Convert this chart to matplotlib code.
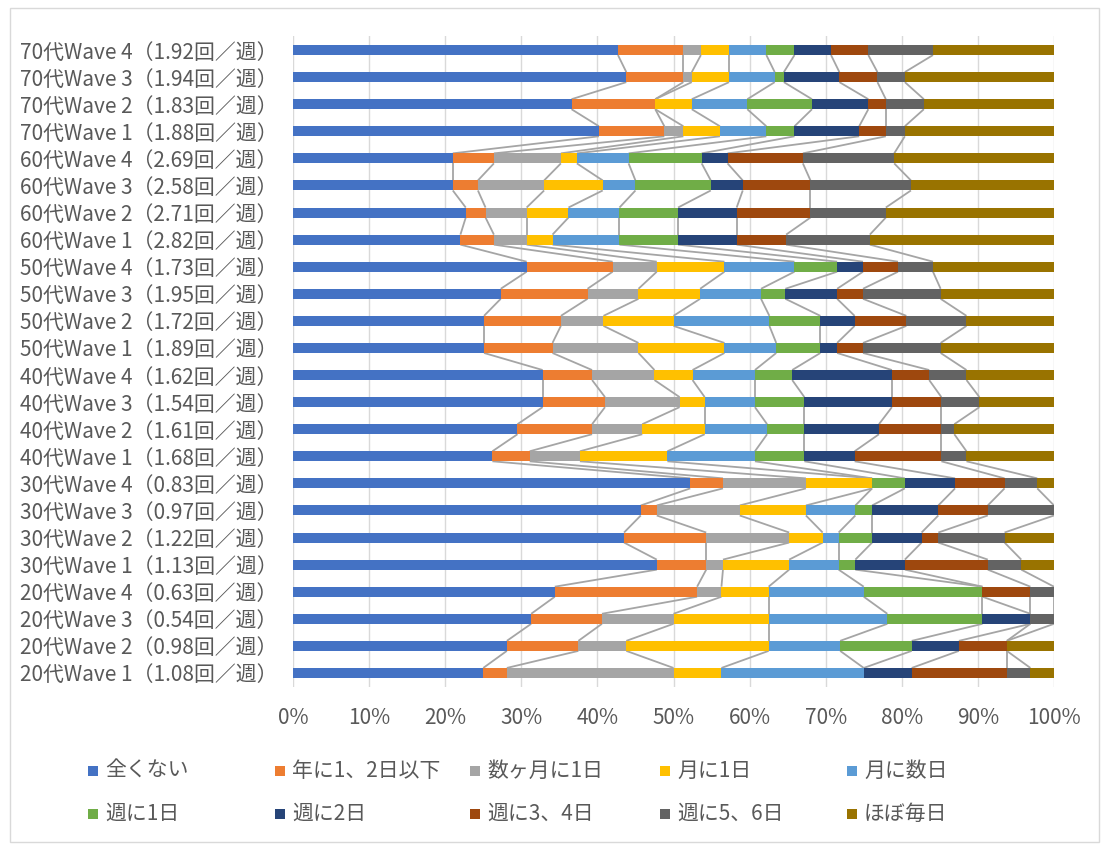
import matplotlib
matplotlib.use("Agg")
import matplotlib.pyplot as plt
import numpy as np
from matplotlib.patches import Rectangle

plt.rcParams['font.family'] = ['Noto Sans CJK JP', 'DejaVu Sans']

# Categories, bottom to top
labels = [
    "20代Wave 1（1.08回／週）", "20代Wave 2（0.98回／週）", "20代Wave 3（0.54回／週）", "20代Wave 4（0.63回／週）",
    "30代Wave 1（1.13回／週）", "30代Wave 2（1.22回／週）", "30代Wave 3（0.97回／週）", "30代Wave 4（0.83回／週）",
    "40代Wave 1（1.68回／週）", "40代Wave 2（1.61回／週）", "40代Wave 3（1.54回／週）", "40代Wave 4（1.62回／週）",
    "50代Wave 1（1.89回／週）", "50代Wave 2（1.72回／週）", "50代Wave 3（1.95回／週）", "50代Wave 4（1.73回／週）",
    "60代Wave 1（2.82回／週）", "60代Wave 2（2.71回／週）", "60代Wave 3（2.58回／週）", "60代Wave 4（2.69回／週）",
    "70代Wave 1（1.88回／週）", "70代Wave 2（1.83回／週）", "70代Wave 3（1.94回／週）", "70代Wave 4（1.92回／週）",
]

series_names = ["全くない", "年に1、2日以下", "数ヶ月に1日", "月に1日", "月に数日",
                "週に1日", "週に2日", "週に3、4日", "週に5、6日", "ほぼ毎日"]

# Shares (%) per series, same order as labels
never = [25.0, 28.1, 31.3, 34.4, 47.8, 43.5, 45.7, 52.2, 26.2, 29.5, 32.8, 32.8,
         25.1, 25.1, 27.3, 30.7, 22.0, 22.7, 21.0, 21.0, 40.2, 36.6, 43.8, 42.7]
yearly = [3.1, 9.4, 9.3, 18.7, 6.5, 10.8, 2.1, 4.3, 4.9, 9.8, 8.2, 6.5,
          9.0, 10.1, 11.4, 11.3, 4.4, 2.6, 3.3, 5.4, 8.6, 11.0, 7.5, 8.6]
few_months = [21.9, 6.3, 9.4, 3.2, 2.2, 10.9, 10.9, 10.9, 6.6, 6.6, 9.8, 8.2,
              11.3, 5.6, 6.7, 5.8, 4.3, 5.4, 8.7, 8.8, 2.5, 0.0, 1.1, 2.3]
monthly_1 = [6.3, 18.7, 12.5, 6.2, 8.7, 4.4, 8.7, 8.7, 11.5, 8.2, 3.3, 5.0,
             11.3, 9.2, 8.1, 8.9, 3.4, 5.5, 7.7, 2.1, 4.8, 4.8, 4.9, 3.7]
monthly_few = [18.7, 9.4, 15.6, 12.5, 6.5, 2.1, 6.5, 0.0, 11.5, 8.2, 6.6, 8.2,
               6.8, 12.6, 8.0, 9.2, 8.8, 6.7, 4.3, 6.8, 6.1, 7.3, 6.0, 4.9]
weekly_1 = [0.0, 9.4, 12.5, 15.6, 2.2, 4.4, 2.2, 4.3, 6.5, 4.9, 6.5, 4.9,
            5.8, 6.7, 3.2, 5.6, 7.7, 7.7, 9.9, 9.6, 3.7, 8.5, 1.2, 3.7]
weekly_2 = [6.3, 6.2, 6.3, 0.0, 6.5, 6.5, 8.7, 6.6, 6.6, 9.8, 11.5, 13.1,
            2.2, 4.5, 6.8, 3.4, 7.7, 7.7, 4.2, 3.4, 8.5, 7.4, 7.3, 4.8]
weekly_34 = [12.5, 6.3, 0.0, 6.3, 10.9, 2.2, 6.5, 6.5, 11.4, 8.2, 6.5, 4.9,
             3.4, 6.8, 3.4, 4.6, 6.5, 9.7, 8.9, 9.9, 3.5, 2.3, 5.0, 4.9]
weekly_56 = [3.1, 0.0, 3.1, 3.1, 4.4, 8.7, 8.7, 4.3, 3.3, 1.7, 5.0, 4.9,
             10.2, 7.9, 10.2, 4.6, 11.0, 9.9, 13.2, 12.0, 2.5, 5.0, 3.6, 8.5]
daily = [3.1, 6.2, 0.0, 0.0, 4.3, 6.5, 0.0, 2.2, 11.5, 13.1, 9.8, 11.5,
         14.9, 11.5, 14.9, 15.9, 24.2, 22.1, 18.8, 21.0, 19.6, 17.1, 19.6, 15.9]

x_ticks = [0, 10, 20, 30, 40, 50, 60, 70, 80, 90, 100]

colors = ["#4472C4", "#ED7D31", "#A5A5A5", "#FFC000", "#5B9BD5",
          "#70AD47", "#264478", "#9E480E", "#636363", "#997300"]
text_color = "#595959"

data = np.array([never, yearly, few_months, monthly_1, monthly_few,
                 weekly_1, weekly_2, weekly_34, weekly_56, daily])
n = len(labels)
y = np.arange(n)
bar_h = 0.37

fig = plt.figure(figsize=(11.05, 8.46), dpi=100)
ax = fig.add_axes([293 / 1105, 159.5 / 846, 761 / 1105, 650 / 846])

left = np.zeros(n)
for vals, col, name in zip(data, colors, series_names):
    ax.barh(y, vals, left=left, height=bar_h, color=col, label=name, zorder=3)
    left = left + vals

# Series lines joining segment ends of neighbouring bars
cum = np.cumsum(data, axis=0)
for j in range(data.shape[0] - 1):
    for i in range(n - 1):
        ax.plot([cum[j, i], cum[j, i + 1]],
                [y[i] + bar_h / 2, y[i + 1] - bar_h / 2],
                color="#A5A5A5", lw=1.3, zorder=2, solid_capstyle="butt")

ax.set_xlim(0, 100)
ax.set_ylim(-0.5, n - 0.5)
ax.set_xticks(x_ticks)
ax.set_xticklabels([f"{t}%" for t in x_ticks])
ax.set_yticks(y)
ax.set_yticklabels(labels)
ax.tick_params(axis="both", length=0, colors=text_color, labelsize=15)
ax.tick_params(axis="x", pad=15)
ax.tick_params(axis="y", pad=11)
ax.grid(axis="x", color="#D9D9D9", lw=1.0, zorder=0)
for s in ax.spines.values():
    s.set_visible(False)

# Legend: two rows of five entries
col_x = [88, 275, 470, 660, 847]
row_y = [771, 814]
W, H = 1105, 846
for k, (name, col) in enumerate(zip(series_names, colors)):
    r, c = divmod(k, 5)
    mx, my = col_x[c], row_y[r]
    fig.add_artist(Rectangle((mx / W, 1 - (my + 5) / H), 10 / W, 10 / H,
                             transform=fig.transFigure, color=col, lw=0))
    fig.text((mx + 17) / W, 1 - my / H, name, color=text_color, fontsize=15,
             va="center", ha="left")

# Chart border
fig.add_artist(Rectangle((10 / W, 4 / H), 1089 / W, 834 / H, transform=fig.transFigure,
                         fill=False, edgecolor="#D9D9D9", lw=1.0))

fig.savefig("out.png", dpi=100)
